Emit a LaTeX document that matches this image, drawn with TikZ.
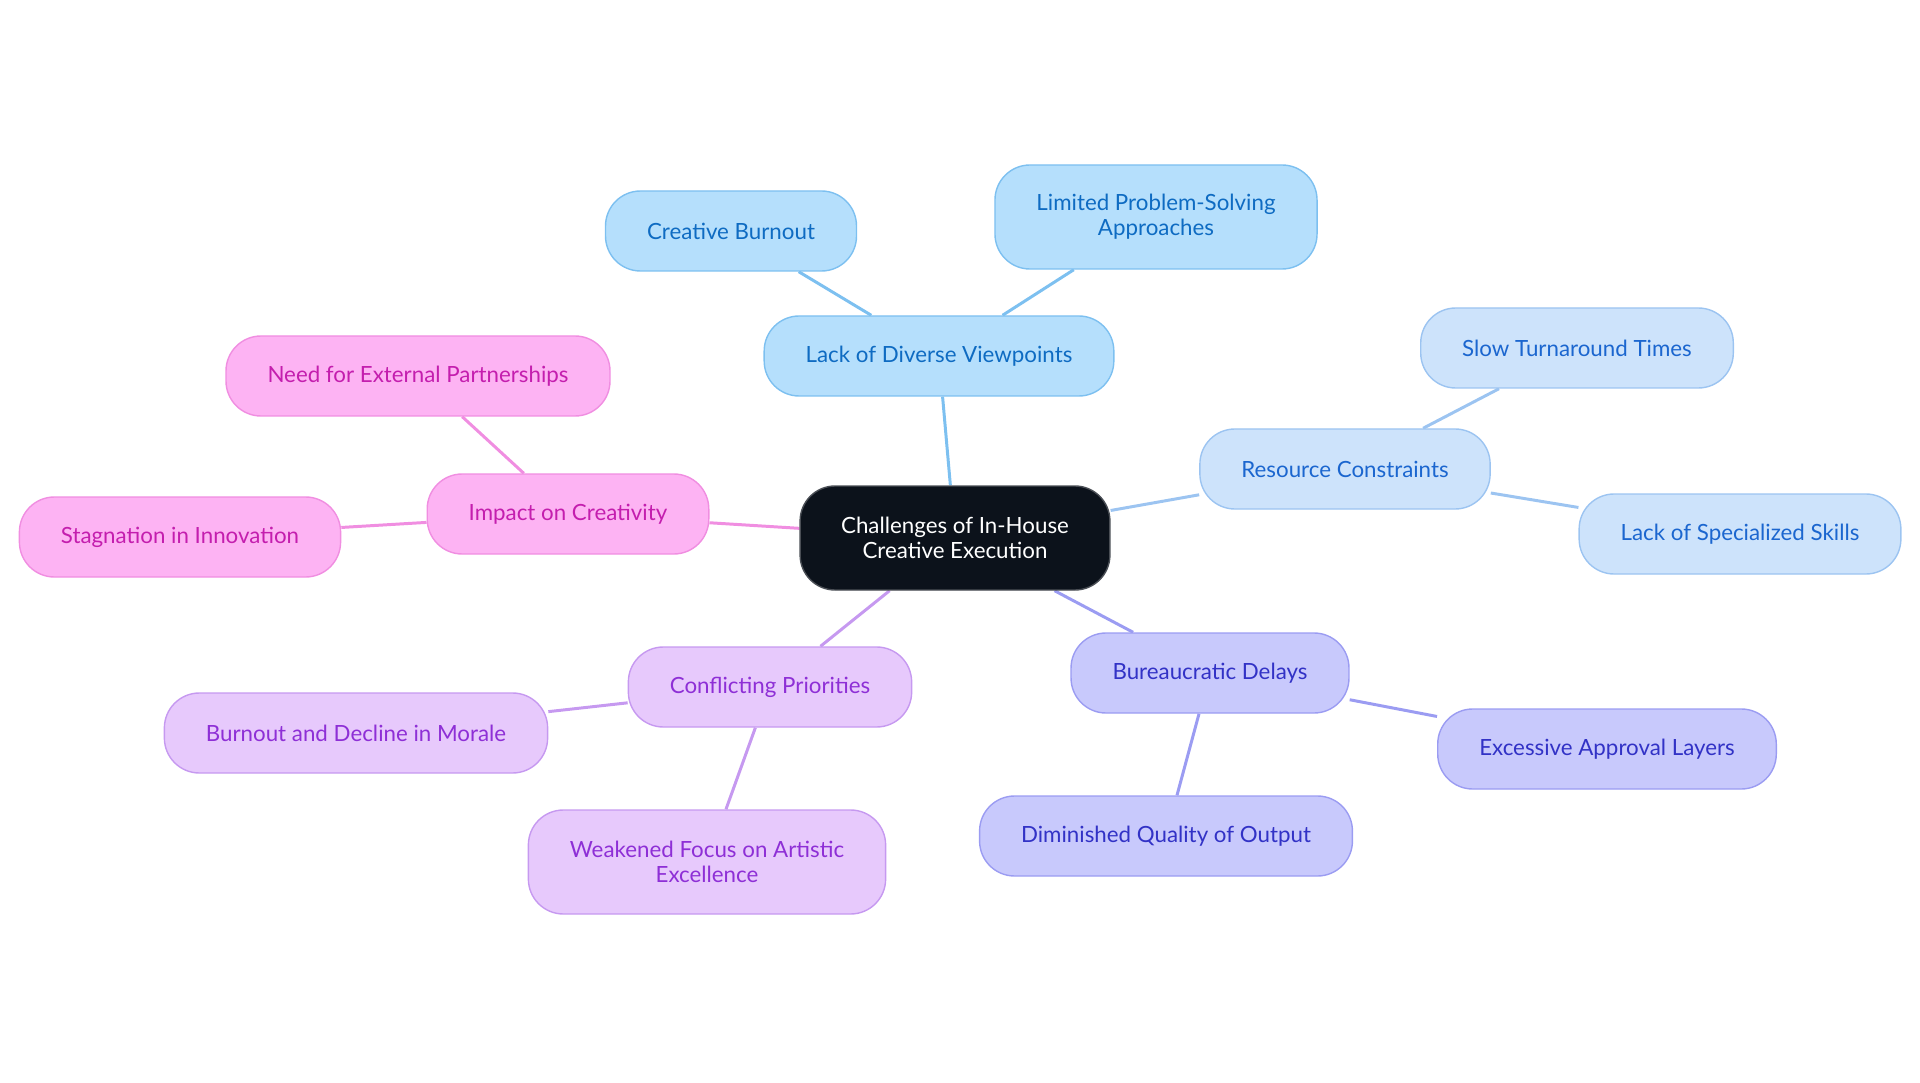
\documentclass[tikz,border=0pt]{standalone}
\usepackage{fontspec}
\setmainfont{Lato}
\usepackage{tikz}
\usetikzlibrary{backgrounds}
\usepackage{xcolor}
\definecolor{MapCore}{HTML}{0C121B}
\definecolor{MapCoreLine}{HTML}{4A4E55}
\definecolor{SkyFill}{HTML}{B5DFFC}
\definecolor{SkyLine}{HTML}{7DC0F0}
\definecolor{SkyText}{HTML}{0E6BC2}
\definecolor{PaleFill}{HTML}{CDE3FB}
\definecolor{PaleLine}{HTML}{9CC4F1}
\definecolor{PaleText}{HTML}{1B66CF}
\definecolor{IrisFill}{HTML}{C8C9FC}
\definecolor{IrisLine}{HTML}{9B9CF2}
\definecolor{IrisText}{HTML}{3232C6}
\definecolor{LilacFill}{HTML}{E7C9FC}
\definecolor{LilacLine}{HTML}{C699F0}
\definecolor{LilacText}{HTML}{8E2FD6}
\definecolor{PinkFill}{HTML}{FDB3F3}
\definecolor{PinkLine}{HTML}{F08EE1}
\definecolor{PinkText}{HTML}{C41EAE}
\tikzset{
  topic/.style={rounded corners=0.7cm,line width=0.8pt,align=center,minimum height=1.6cm,inner xsep=0.83cm,font=\fontsize{12.7}{14}\selectfont},
  core/.style={topic,fill=MapCore,draw=MapCoreLine,text=white,minimum height=2.08cm,inner xsep=0.82cm},
  sky/.style={topic,fill=SkyFill,draw=SkyLine,text=SkyText},
  pale/.style={topic,fill=PaleFill,draw=PaleLine,text=PaleText},
  iris/.style={topic,fill=IrisFill,draw=IrisLine,text=IrisText},
  lilac/.style={topic,fill=LilacFill,draw=LilacLine,text=LilacText},
  pink/.style={topic,fill=PinkFill,draw=PinkLine,text=PinkText},
  twoline/.style={minimum height=2.08cm},
  link/.style={line width=1.7pt}
}

\begin{document}
\begin{tikzpicture}
  \useasboundingbox (0,0) rectangle (38.4,-21.66);
  \node[core] (challenges) at (19.10,-10.76) {Challenges of In-House\\Creative Execution};

  \node[sky] (viewpoints) at (18.78,-7.12) {Lack of Diverse Viewpoints};
  \node[sky] (burnout) at (14.62,-4.62) {Creative Burnout};
  \node[sky,twoline] (problemsolving) at (23.12,-4.34) {Limited Problem-Solving\\Approaches};

  \node[pale] (resources) at (26.90,-9.38) {Resource Constraints};
  \node[pale] (turnaround) at (31.54,-6.96) {Slow Turnaround Times};
  \node[pale] (skills) at (34.80,-10.68) {Lack of Specialized Skills};

  \node[iris] (delays) at (24.20,-13.46) {Bureaucratic Delays};
  \node[iris] (approval) at (32.14,-14.98) {Excessive Approval Layers};
  \node[iris] (quality) at (23.32,-16.72) {Diminished Quality of Output};

  \node[lilac] (priorities) at (15.40,-13.74) {Conflicting Priorities};
  \node[lilac] (morale) at (7.12,-14.66) {Burnout and Decline in Morale};
  \node[lilac,twoline] (focus) at (14.14,-17.24) {Weakened Focus on Artistic\\Excellence};

  \node[pink] (impact) at (11.36,-10.28) {Impact on Creativity};
  \node[pink] (partnerships) at (8.36,-7.52) {Need for External Partnerships};
  \node[pink] (stagnation) at (3.60,-10.74) {Stagnation in Innovation};

  % branches
  \begin{scope}[on background layer]
    \draw[link,SkyLine] (challenges) -- (viewpoints);
    \draw[link,SkyLine] (viewpoints) -- (burnout);
    \draw[link,SkyLine] (viewpoints) -- (problemsolving);
    \draw[link,PaleLine] (challenges) -- (resources);
    \draw[link,PaleLine] (resources) -- (turnaround);
    \draw[link,PaleLine] (resources) -- (skills);
    \draw[link,IrisLine] (challenges) -- (delays);
    \draw[link,IrisLine] (delays) -- (approval);
    \draw[link,IrisLine] (delays) -- (quality);
    \draw[link,LilacLine] (challenges) -- (priorities);
    \draw[link,LilacLine] (priorities) -- (morale);
    \draw[link,LilacLine] (priorities) -- (focus);
    \draw[link,PinkLine] (challenges) -- (impact);
    \draw[link,PinkLine] (impact) -- (partnerships);
    \draw[link,PinkLine] (impact) -- (stagnation);
  \end{scope}
\end{tikzpicture}
\end{document}
